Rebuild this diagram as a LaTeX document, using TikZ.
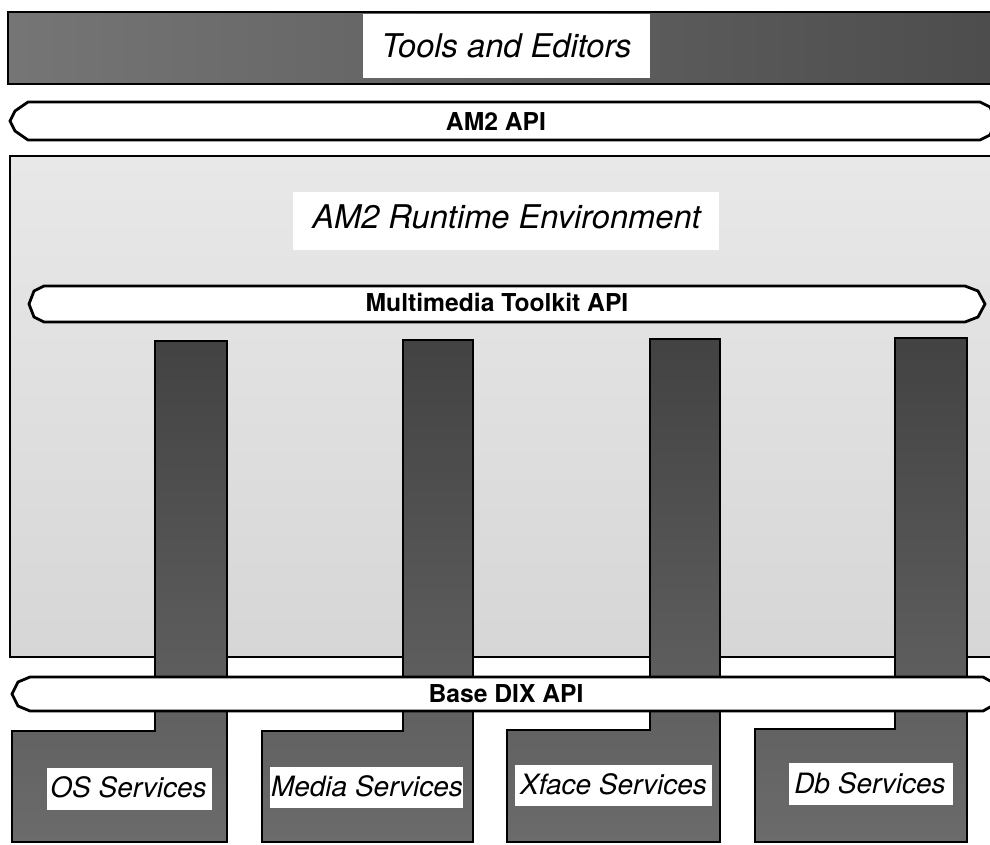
\documentclass[tikz,border=0pt]{standalone}
\usepackage{fontspec}
\setmainfont{TeX Gyre Heros}
\begin{document}
\begin{tikzpicture}[x=0.75pt,y=-0.75pt,
  outline/.style={draw=black,line width=2.1pt,line join=miter},
  darkbar/.style={outline,left color=black!54,right color=black!70},
  envbox/.style={outline,top color=black!9,bottom color=black!16},
  apibar/.style={outline,fill=white},
  service/.style={outline,top color=black!74,bottom color=black!58},
  whitebox/.style={fill=white},
  title/.style={font=\fontsize{24.5}{28}\selectfont\itshape,anchor=base,inner sep=0pt},
  apilabel/.style={font=\fontsize{18.5}{22}\selectfont\bfseries,anchor=base,inner sep=0pt},
  servlabel/.style={font=\fontsize{21}{25}\selectfont\itshape,anchor=base,inner sep=0pt}]
\useasboundingbox (0,0) rectangle (990,844);
\clip (0,0) rectangle (990,844);

% tools layer
\path[darkbar] (8,12) rectangle (1000,84);
\path[whitebox] (363,14) rectangle (650,78);
\node[title] (tools) at (506.5,57) {Tools and Editors};

% AM2 API
\path[apibar] (28,102) -- (15,111) -- (10,121) -- (15,131) -- (28,140)
  -- (980,140) -- (990,135) -- (996,121) -- (990,107) -- (980,102) -- cycle;
\node[apilabel] (amapi) at (496,130) {AM2 API};

% runtime environment
\path[envbox] (10,156) rectangle (1000,657);
\path[whitebox] (293,192) rectangle (719,250);
\node[title] (runtime) at (506.5,228) {AM2 Runtime Environment};

% Multimedia Toolkit API
\path[apibar] (44,286) -- (34,291) -- (29,304) -- (34,317) -- (44,322)
  -- (965,322) -- (978,317) -- (985,304) -- (978,291) -- (965,286) -- cycle;
\node[apilabel] (mmapi) at (497,311) {Multimedia Toolkit API};

% service blocks with their columns
\path[service] (12,842) -- (12,731) -- (155,731) -- (155,341) -- (227,341) -- (227,842) -- cycle;
\path[service] (262,842) -- (262,731) -- (403,731) -- (403,340) -- (473,340) -- (473,842) -- cycle;
\path[service] (507,842) -- (507,730) -- (650,730) -- (650,339) -- (720,339) -- (720,842) -- cycle;
\path[service] (755,842) -- (755,729) -- (895,729) -- (895,338) -- (967,338) -- (967,842) -- cycle;

% Base DIX API
\path[apibar] (30,677) -- (18,682) -- (12,694) -- (18,706) -- (30,711)
  -- (983,711) -- (992,706) -- (997,694) -- (992,682) -- (983,677) -- cycle;
\node[apilabel] (dixapi) at (506,702) {Base DIX API};

% service labels
\path[whitebox] (47,768) rectangle (212,810);
\node[servlabel] (os) at (128.5,797) {OS Services};
\path[whitebox] (270,767) rectangle (463,808);
\node[servlabel] (media) at (367,796) {Media Services};
\path[whitebox] (515,765) rectangle (712,806);
\node[servlabel] (xface) at (613.5,794) {Xface Services};
\path[whitebox] (789,763) rectangle (953,805);
\node[servlabel] (db) at (870,793) {Db Services};
\end{tikzpicture}
\end{document}
